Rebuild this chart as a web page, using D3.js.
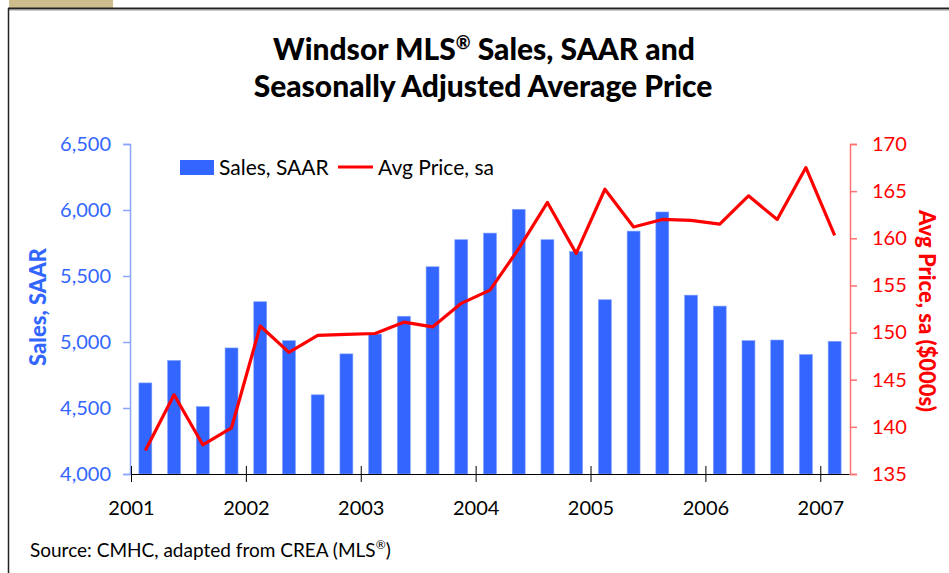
<!DOCTYPE html>
<html>
<head>
<meta charset="utf-8">
<script src="https://cdn.jsdelivr.net/npm/d3@7"></script>
<style>
  body { margin: 0; background: #fff; }
  svg { font-family: "Lato", "Open Sans", sans-serif; }
</style>
</head>
<body>
<div id="chart"></div>
<script>
// quarterly, 2001Q1 .. 2007Q1
var quarters = ["2001Q1","2001Q2","2001Q3","2001Q4","2002Q1","2002Q2","2002Q3","2002Q4",
                "2003Q1","2003Q2","2003Q3","2003Q4","2004Q1","2004Q2","2004Q3","2004Q4",
                "2005Q1","2005Q2","2005Q3","2005Q4","2006Q1","2006Q2","2006Q3","2006Q4","2007Q1"];
var sales = [4690, 4860, 4510, 4955, 5305, 5010, 4600, 4910,
             5060, 5195, 5570, 5775, 5825, 6005, 5775, 5685,
             5320, 5840, 5985, 5355, 5272, 5010, 5015, 4905, 5005];
var price = [137.5, 143.4, 138.1, 139.9, 150.7, 147.9, 149.7, 149.8,
             149.9, 151.1, 150.6, 153.1, 154.5, 158.9, 163.8, 158.4,
             165.2, 161.2, 162.0, 161.9, 161.5, 164.5, 162.0, 167.5, 160.3];
var years = [2001, 2002, 2003, 2004, 2005, 2006, 2007];
var salesTicks = [4000, 4500, 5000, 5500, 6000, 6500];
var priceTicks = [135, 140, 145, 150, 155, 160, 165, 170];

var W = 949, H = 573;
var margin = {top: 144, right: 100, bottom: 99, left: 130};
var width = W - margin.left - margin.right,   // 719
    height = H - margin.top - margin.bottom;  // 330

var blue = "#3366ff", red = "#ff0000";
var tickFont = 20;

var svg = d3.select("#chart").append("svg")
    .attr("width", W)
    .attr("height", H);

// page frame
svg.append("rect").attr("x", 9).attr("y", 0).attr("width", 104).attr("height", 8).attr("fill", "#cdbd8c");
svg.append("line").attr("x1", 8).attr("x2", W).attr("y1", 8.5).attr("y2", 8.5).attr("stroke", "#222").attr("stroke-width", 2);
svg.append("line").attr("x1", 8).attr("x2", W).attr("y1", 10).attr("y2", 10).attr("stroke", "#999").attr("stroke-width", 1);
svg.append("line").attr("x1", 8.5).attr("x2", 8.5).attr("y1", 8).attr("y2", H).attr("stroke", "#222").attr("stroke-width", 1.5);

// title
var title = svg.append("text")
    .attr("text-anchor", "middle")
    .attr("font-weight", "900")
    .attr("font-size", 30)
    .attr("fill", "#000");
var t1 = title.append("tspan").attr("x", 484).attr("y", 60);
t1.append("tspan").text("Windsor MLS");
t1.append("tspan").attr("dy", -11).attr("font-size", 18).text("®");
t1.append("tspan").attr("dy", 11).text(" Sales, SAAR and");
title.append("tspan").attr("x", 483).attr("y", 97).text("Seasonally Adjusted Average Price");

var g = svg.append("g")
    .attr("transform", "translate(" + margin.left + "," + margin.top + ")");

var x = d3.scaleBand().domain(quarters).range([1, width]).paddingInner(0.55).paddingOuter(0.275);
var xYear = d3.scaleLinear().domain([2001, 2007.25]).range([1, width]);
var y = d3.scaleLinear().domain([4000, 6500]).range([height, 0]);
var y2 = d3.scaleLinear().domain([135, 170]).range([height, 0]);

// bars
g.selectAll(".bar")
    .data(sales)
    .enter().append("rect")
    .attr("class", "bar")
    .attr("x", function(d, i) { return x(quarters[i]); })
    .attr("width", x.bandwidth())
    .attr("y", function(d) { return y(d); })
    .attr("height", function(d) { return height - y(d); })
    .attr("fill", blue)
    .attr("stroke", "#7f9fff")
    .attr("stroke-width", 0.6);

// left axis
var yAxis = g.append("g")
    .attr("class", "axis")
    .call(d3.axisLeft(y).tickValues(salesTicks).tickFormat(d3.format(",")).tickSize(7).tickPadding(12));
yAxis.select(".domain").attr("stroke", "#8aa6ff").attr("stroke-width", 1.5);
yAxis.selectAll(".tick line").attr("stroke", "#8aa6ff").attr("stroke-width", 1.5);
yAxis.selectAll(".tick text").attr("fill", blue).attr("font-size", tickFont).attr("font-family", "Lato, sans-serif");

// right axis
var y2Axis = g.append("g")
    .attr("class", "axis")
    .attr("transform", "translate(" + (width + 1) + ",0)")
    .call(d3.axisRight(y2).tickValues(priceTicks).tickSize(7).tickPadding(15));
y2Axis.select(".domain").attr("stroke", "#ff7070").attr("stroke-width", 1.5);
y2Axis.selectAll(".tick line").attr("stroke", "#ff7070").attr("stroke-width", 1.5);
y2Axis.selectAll(".tick text").attr("fill", red).attr("font-size", tickFont).attr("font-family", "Lato, sans-serif");

// x axis
var xAxis = g.append("g")
    .attr("class", "axis")
    .attr("transform", "translate(0," + height + ")")
    .call(d3.axisBottom(xYear).tickValues(years).tickFormat(d3.format("d")).tickSizeInner(8).tickSizeOuter(0).tickPadding(19));
xAxis.select(".domain").attr("stroke", "#000").attr("stroke-width", 1);
xAxis.selectAll(".tick line").attr("y1", -8).attr("stroke", "#000");
xAxis.selectAll(".tick text").attr("fill", "#000").attr("font-size", tickFont).attr("font-family", "Lato, sans-serif");

// price line
var line = d3.line()
    .x(function(d, i) { return x(quarters[i]) + x.bandwidth() / 2; })
    .y(function(d) { return y2(d); });
g.append("path")
    .datum(price)
    .attr("fill", "none")
    .attr("stroke", red)
    .attr("stroke-width", 3.2)
    .attr("stroke-linejoin", "round")
    .attr("d", line);

// axis titles
svg.append("text")
    .attr("transform", "translate(46,307) rotate(-90)")
    .attr("text-anchor", "middle")
    .attr("font-weight", "900")
    .attr("font-size", 22)
    .attr("fill", blue)
    .text("Sales, SAAR");
svg.append("text")
    .attr("transform", "translate(919,311) rotate(90)")
    .attr("text-anchor", "middle")
    .attr("font-weight", "900")
    .attr("font-size", 22)
    .attr("fill", red)
    .text("Avg Price, sa ($000s)");

// legend
var legend = svg.append("g");
legend.append("rect").attr("x", 180).attr("y", 160).attr("width", 34).attr("height", 15).attr("fill", blue);
legend.append("text").attr("x", 219).attr("y", 175).attr("font-size", 21).attr("fill", "#000").text("Sales, SAAR");
legend.append("line").attr("x1", 338).attr("x2", 373).attr("y1", 167).attr("y2", 167).attr("stroke", red).attr("stroke-width", 3);
legend.append("text").attr("x", 378).attr("y", 175).attr("font-size", 21).attr("fill", "#000").text("Avg Price, sa");

// source
var src = svg.append("text").attr("x", 30).attr("y", 557).attr("font-size", 19).attr("fill", "#000");
src.append("tspan").text("Source: CMHC, adapted from CREA (MLS");
src.append("tspan").attr("dy", -8).attr("font-size", 12).text("®");
src.append("tspan").attr("dy", 8).text(")");
</script>
</body>
</html>
